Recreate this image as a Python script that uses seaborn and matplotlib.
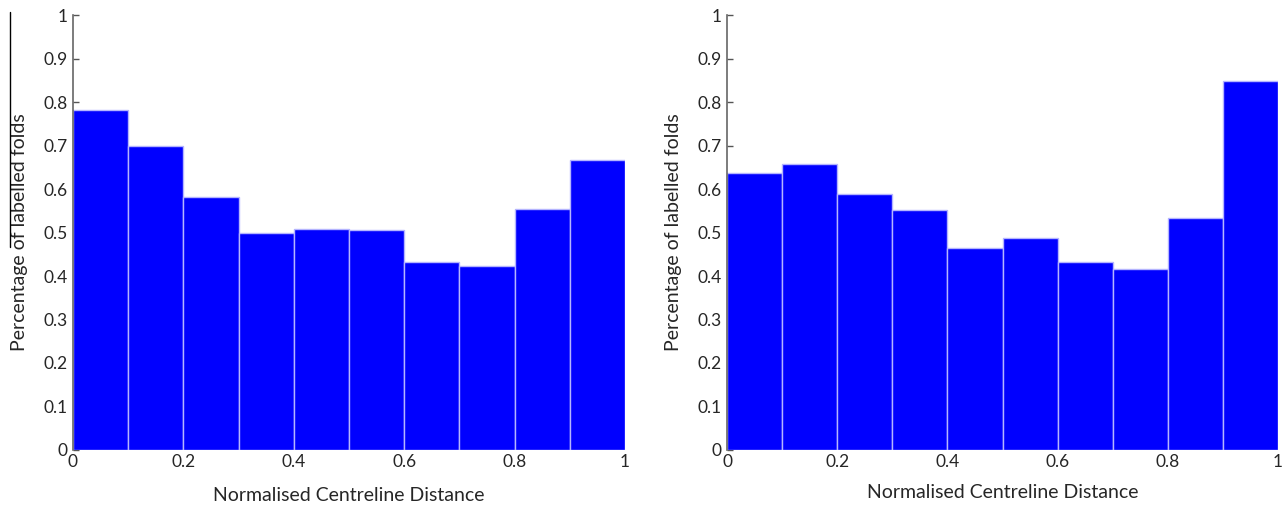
import numpy as np
import pandas as pd
import seaborn as sns
import matplotlib.pyplot as plt
from matplotlib.lines import Line2D

# bin edges and fractions
bin_edges = [0.0, 0.1, 0.2, 0.3, 0.4, 0.5, 0.6, 0.7, 0.8, 0.9, 1.0]
left_vals = [0.783, 0.699, 0.582, 0.499, 0.508, 0.505, 0.432, 0.424, 0.555, 0.667]
right_vals = [0.637, 0.658, 0.588, 0.551, 0.465, 0.488, 0.432, 0.416, 0.533, 0.848]

x_ticks = [0, 0.2, 0.4, 0.6, 0.8, 1]
x_ticklabels = ["0", "0.2", "0.4", "0.6", "0.8", "1"]
y_ticks = [0, 0.1, 0.2, 0.3, 0.4, 0.5, 0.6, 0.7, 0.8, 0.9, 1]
y_ticklabels = ["0", "0.1", "0.2", "0.3", "0.4", "0.5", "0.6", "0.7", "0.8", "0.9", "1"]

sns.set_style("white")
plt.rcParams["font.family"] = ["Lato", "DejaVu Sans"]

fig = plt.figure(figsize=(12.87, 5.05), dpi=100)
ax1 = fig.add_axes([0.0567, 0.109, 0.429, 0.861])
ax2 = fig.add_axes([0.565, 0.109, 0.428, 0.861])

edges = np.array(bin_edges)
centers = (edges[:-1] + edges[1:]) / 2

for ax, vals in [(ax1, left_vals), (ax2, right_vals)]:
    df = pd.DataFrame({"dist": centers, "frac": vals})
    sns.histplot(data=df, x="dist", weights="frac", bins=len(vals),
                 binrange=(bin_edges[0], bin_edges[-1]), ax=ax,
                 color="#0000ff", alpha=1, edgecolor="#b4b4ff", linewidth=1)
    ax.set_xlim(0, 1)
    ax.set_ylim(0, 1)
    ax.set_xticks(x_ticks)
    ax.set_xticklabels(x_ticklabels)
    ax.set_yticks(y_ticks)
    ax.set_yticklabels(y_ticklabels)
    ax.tick_params(axis="y", direction="in", length=4, width=1, color="#555555",
                   labelsize=12.5, pad=4, left=True)
    ax.tick_params(axis="x", length=0, labelsize=12.5, pad=3)
    for s in ["top", "right", "bottom"]:
        ax.spines[s].set_visible(False)
    ax.spines["left"].set_color("#666666")
    ax.spines["left"].set_linewidth(1.2)
    ax.set_xlabel("Normalised Centreline Distance", fontsize=14, labelpad=12)
    ax.set_ylabel("Percentage of labelled folds", fontsize=14, labelpad=11)
    ax.set_facecolor("white")

ax2.xaxis.labelpad = 10

# stray vertical rule beside the left y label in the original
fig.add_artist(Line2D([0.0074, 0.0074], [0.976, 0.511], color="black", linewidth=1))

plt.savefig("out.png", dpi=100)
